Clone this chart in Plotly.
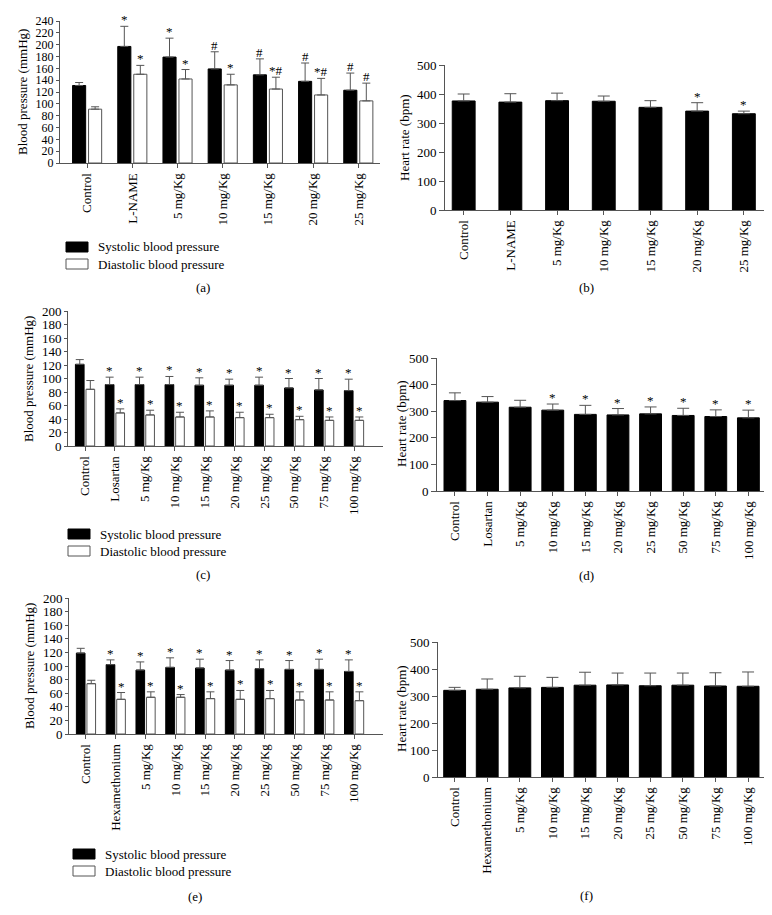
import plotly.graph_objects as go

W, H = 772, 915
FONT = "Liberation Serif"
GRAY = "#555555"

# ---------------- data ----------------
cats_a = ["Control", "L-NAME", "5 mg/Kg", "10 mg/Kg", "15 mg/Kg", "20 mg/Kg", "25 mg/Kg"]
sys_a = [131, 197, 179, 159, 149, 138, 123]
sys_a_err = [5, 34, 32, 29, 27, 31, 29]
dia_a = [91, 150, 142, 132, 125, 115, 105]
dia_a_err = [4, 15, 16, 18, 20, 28, 30]
sig_sys_a = ["", "*", "*", "#", "#", "#", "#"]
sig_dia_a = ["", "*", "*", "*", "*#", "*#", "#"]

hr_b = [376, 372, 377, 375, 354, 341, 332]
hr_b_err = [24, 29, 26, 18, 23, 29, 9]
sig_b = ["", "", "", "", "", "*", "*"]

cats_c = ["Control", "Losartan", "5 mg/Kg", "10 mg/Kg", "15 mg/Kg", "20 mg/Kg",
          "25 mg/Kg", "50 mg/Kg", "75 mg/Kg", "100 mg/Kg"]
sys_c = [121, 91, 91, 91, 90, 90, 90, 86, 83, 82]
sys_c_err = [7, 11, 11, 12, 11, 9, 12, 14, 17, 17]
dia_c = [84, 49, 46, 43, 43, 42, 42, 39, 38, 38]
dia_c_err = [13, 6, 7, 7, 9, 8, 5, 5, 5, 5]
sig_sys_c = ["", "*", "*", "*", "*", "*", "*", "*", "*", "*"]
sig_dia_c = ["", "*", "*", "*", "*", "*", "*", "*", "*", "*"]

hr_d = [340, 334, 315, 304, 288, 286, 290, 284, 280, 275]
hr_d_err = [29, 21, 26, 23, 34, 24, 26, 27, 25, 29]
sig_d = ["", "", "", "*", "*", "*", "*", "*", "*", "*"]

cats_e = ["Control", "Hexamethonium", "5 mg/Kg", "10 mg/Kg", "15 mg/Kg", "20 mg/Kg",
          "25 mg/Kg", "50 mg/Kg", "75 mg/Kg", "100 mg/Kg"]
sys_e = [119, 102, 94, 98, 97, 94, 96, 95, 95, 92]
sys_e_err = [7, 7, 12, 14, 13, 14, 13, 13, 15, 17]
dia_e = [74, 51, 54, 54, 52, 51, 52, 50, 50, 49]
dia_e_err = [5, 10, 8, 4, 10, 13, 12, 12, 12, 13]
sig_sys_e = ["", "*", "*", "*", "*", "*", "*", "*", "*", "*"]
sig_dia_e = ["", "*", "*", "*", "*", "*", "*", "*", "*", "*"]

hr_f = [321, 325, 330, 332, 340, 341, 338, 340, 337, 336]
hr_f_err = [11, 38, 43, 37, 48, 44, 47, 45, 49, 53]

legend_labels = ["Systolic blood pressure", "Diastolic blood pressure"]
bp_title = "Blood pressure (mmHg)"
hr_title = "Heart rate (bpm)"

# ---------------- helpers ----------------
def fx(px):
    return px / W

def fy(py):
    return 1 - py / H

fig = go.Figure()
annotations = []
shapes = []

GW = 0.29      # bar width in grouped panels
GC = 0.177     # half distance between bar centres in a group


def axis_common(**kw):
    d = dict(showline=True, linecolor=GRAY, linewidth=1, showgrid=False, zeroline=False,
             ticks="outside", tickcolor=GRAY, ticklen=4, automargin=False,
             tickfont=dict(family=FONT, size=13, color="black"))
    d.update(kw)
    return d


def err(vals, w=4):
    return dict(type="data", symmetric=False, array=vals, arrayminus=[0] * len(vals),
                color=GRAY, thickness=1, width=w)


def add_sig(labels, vals, errs, xref, yref, dx):
    for i, (s, v, e) in enumerate(zip(labels, vals, errs)):
        if s:
            annotations.append(dict(x=i + dx, y=v + e, xref=xref, yref=yref, text=s,
                                    showarrow=False, yanchor="bottom", xanchor="center",
                                    yshift=-3, font=dict(family=FONT, size=13, color="black")))


def axname(n):
    return ("x" + n, "y" + n)


def grouped_panel(n, cats, sysv, syse, diav, diae, sigs, sigd, xdom, ydom, xr, yr, dtick, yfs):
    xa, ya = axname(n)
    fig.add_trace(go.Bar(x=cats, y=sysv, xaxis=xa, yaxis=ya, width=GW, offset=-GC - GW / 2,
                         marker=dict(color="black", line=dict(color="black", width=1)),
                         error_y=err(syse), showlegend=False))
    fig.add_trace(go.Bar(x=cats, y=diav, xaxis=xa, yaxis=ya, width=GW, offset=GC - GW / 2,
                         marker=dict(color="white", line=dict(color=GRAY, width=1)),
                         error_y=err(diae), showlegend=False))
    add_sig(sigs, sysv, syse, xa, ya, -GC)
    add_sig(sigd, diav, diae, xa, ya, GC)
    fig.layout["xaxis" + n] = axis_common(domain=xdom, anchor=ya, type="category",
                                          range=xr, tickangle=-90)
    fig.layout["yaxis" + n] = axis_common(domain=ydom, anchor=xa, range=yr, dtick=dtick,
                                          ticklen=3,
                                          tickfont=dict(family=FONT, size=yfs, color="black"))


def single_panel(n, cats, vals, errs, sig, xdom, ydom, xr, width):
    xa, ya = axname(n)
    fig.add_trace(go.Bar(x=cats, y=vals, xaxis=xa, yaxis=ya, width=width,
                         marker=dict(color="black", line=dict(color="black", width=1)),
                         error_y=err(errs, 6), showlegend=False))
    if sig:
        add_sig(sig, vals, errs, xa, ya, 0)
    fig.layout["xaxis" + n] = axis_common(domain=xdom, anchor=ya, type="category",
                                          range=xr, tickangle=-90)
    fig.layout["yaxis" + n] = axis_common(domain=ydom, anchor=xa, range=[0, 500], dtick=100,
                                          ticklen=5)


# panel (a)
grouped_panel("", cats_a, sys_a, sys_a_err, dia_a, dia_a_err, sig_sys_a, sig_dia_a,
              [fx(52), fx(372)], [fy(155), fy(13)], [-0.6, 6.48], [0, 240], 20, 12)
# panel (b)
single_panel("2", cats_a, hr_b, hr_b_err, sig_b,
             [fx(437), fx(762)], [fy(202), fy(57)], [-0.4, 6.56], 0.49)
# panel (c)
grouped_panel("3", cats_c, sys_c, sys_c_err, dia_c, dia_c_err, sig_sys_c, sig_dia_c,
              [fx(60), fx(375)], [fy(438), fy(303)], [-0.57, 9.97], [0, 200], 20, 13)
# panel (d)
single_panel("4", cats_c, hr_d, hr_d_err, sig_d,
             [fx(429), fx(758)], [fy(483), fy(350)], [-0.55, 9.54], 0.67)
# panel (e)
grouped_panel("5", cats_e, sys_e, sys_e_err, dia_e, dia_e_err, sig_sys_e, sig_dia_e,
              [fx(61), fx(375)], [fy(726), fy(590)], [-0.57, 9.97], [0, 200], 20, 13)
# panel (f)
single_panel("6", cats_e, hr_f, hr_f_err, None,
             [fx(430), fx(757)], [fy(769), fy(634)], [-0.51, 9.52], 0.67)

# axis titles
def vtitle(text, x, y):
    annotations.append(dict(x=fx(x), y=fy(y), xref="paper", yref="paper", text=text,
                            textangle=-90, showarrow=False, xanchor="center", yanchor="middle",
                            font=dict(family=FONT, size=13, color="black")))

vtitle(bp_title, 15, 84)
vtitle(hr_title, 397, 130)
vtitle(bp_title, 21, 371)
vtitle(hr_title, 393, 416)
vtitle(bp_title, 21, 658)
vtitle(hr_title, 393, 701)

# legends
def legend(x0, y_top):
    for k, (lab, col) in enumerate(zip(legend_labels, ["black", "white"])):
        yt = y_top + k * 17
        shapes.append(dict(type="rect", xref="paper", yref="paper",
                           x0=fx(x0), x1=fx(x0 + 22), y0=fy(yt + 10), y1=fy(yt),
                           fillcolor=col,
                           line=dict(color=GRAY if col == "white" else "black", width=1)))
        annotations.append(dict(x=fx(x0 + 30), y=fy(yt + 5), xref="paper", yref="paper",
                                text=lab, showarrow=False, xanchor="left", yanchor="middle",
                                font=dict(family=FONT, size=13, color="black")))

legend(58, 234)
legend(60, 521)
legend(65, 841)

# captions
def caption(text, x, y):
    annotations.append(dict(x=fx(x), y=fy(y), xref="paper", yref="paper", text=text,
                            showarrow=False, xanchor="center", yanchor="middle",
                            font=dict(family=FONT, size=13, color="black")))

caption("(a)", 195, 279)
caption("(b)", 578, 279)
caption("(c)", 195, 566)
caption("(d)", 578, 567)
caption("(e)", 187, 888)
caption("(f)", 578, 887)

fig.update_layout(width=W, height=H, margin=dict(l=0, r=0, t=0, b=0, autoexpand=False),
                  paper_bgcolor="white", plot_bgcolor="white", barmode="overlay",
                  annotations=annotations, shapes=shapes, showlegend=False)

fig.write_html("out.html")
